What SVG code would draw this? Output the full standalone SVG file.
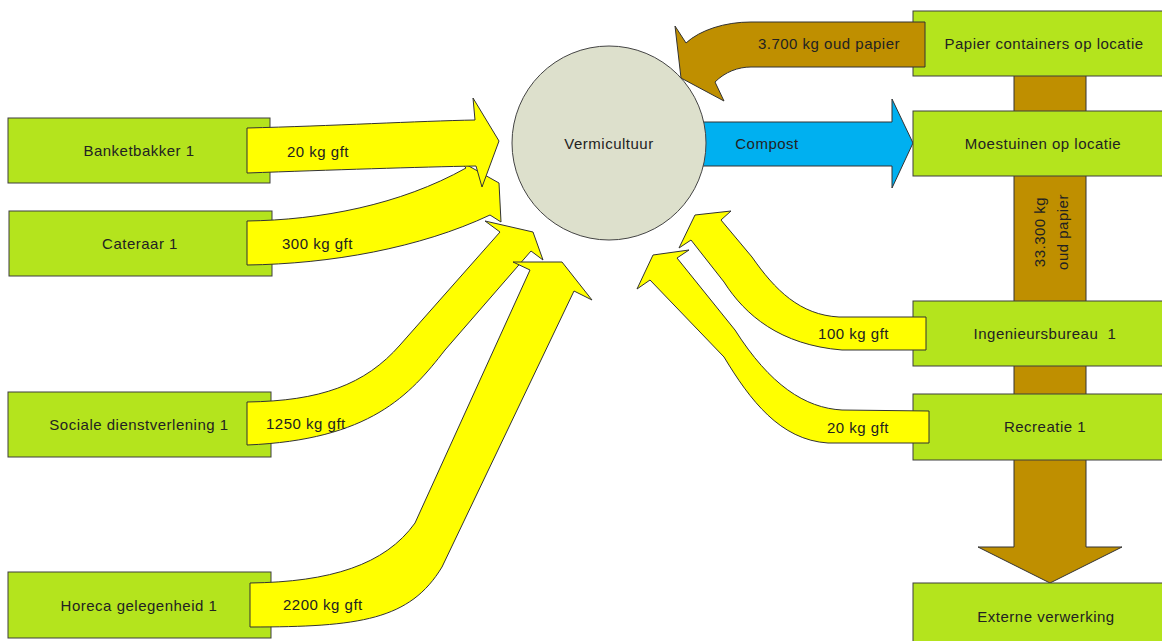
<svg xmlns="http://www.w3.org/2000/svg" width="1162" height="641" viewBox="0 0 1162 641">
<style>
.box{fill:#b4e41d;stroke:#3f3f3f;stroke-width:1}
.y{fill:#ffff00;stroke:#333;stroke-width:1;stroke-linejoin:miter}
.br{fill:#bf8f00;stroke:#333;stroke-width:1}
.bl{fill:#00b0f0;stroke:#333;stroke-width:1}
text{font-family:"Liberation Sans",Arial,sans-serif;font-size:15px;fill:#222;letter-spacing:0.5px;white-space:pre}
.c{text-anchor:middle}
.e{text-anchor:end}
</style>
<rect width="1162" height="641" fill="#fff"/>
<g id="connectors">
<path id="paper-flow" class="br" d="M1014,70 L1086,70 L1086,547 L1122,547 L1050,583 L978,547 L1014,547 Z"/>
<path id="compost" class="bl" d="M690,122 L892,122 L892,99 L913,143 L892,188 L892,166 L690,166 Z"/>
</g>
<g id="vermicultuur">
<circle cx="609" cy="143" r="97" fill="#dde0cc" stroke="#444" stroke-width="1"/>
<text class="c" x="609" y="149">Vermicultuur</text>
</g>
<g id="labels-flow">
<text class="c" x="767" y="149">Compost</text>
<text class="c" transform="translate(1045,232) rotate(-90)">33.300 kg</text>
<text class="c" transform="translate(1068,232) rotate(-90)">oud papier</text>
</g>
<g id="banketbakker"><rect class="box" x="8" y="118" width="262" height="65"/><text class="c" x="139" y="156">Banketbakker 1</text></g>
<g id="cateraar"><rect class="box" x="9" y="211" width="263" height="65"/><text class="c" x="140" y="249">Cateraar 1</text></g>
<g id="sociale"><rect class="box" x="8" y="392" width="263" height="65"/><text class="c" x="139" y="430">Sociale dienstverlening 1</text></g>
<g id="horeca"><rect class="box" x="8" y="572" width="263" height="66"/><text class="c" x="139" y="611">Horeca gelegenheid 1</text></g>
<g id="papier"><rect class="box" x="913" y="11" width="260" height="65"/><text class="c" x="1044" y="49">Papier containers op locatie</text></g>
<g id="moestuinen"><rect class="box" x="913" y="111" width="260" height="65"/><text class="c" x="1043" y="149">Moestuinen op locatie</text></g>
<g id="ingenieursbureau"><rect class="box" x="913" y="301" width="260" height="65"/><text class="c" x="1045" y="339">Ingenieursbureau  1</text></g>
<g id="recreatie"><rect class="box" x="913" y="394" width="260" height="66"/><text class="c" x="1045" y="432">Recreatie 1</text></g>
<g id="extern"><rect class="box" x="913" y="583" width="260" height="70"/><text class="c" x="1046" y="622">Externe verwerking</text></g>
<g id="arrows">
<path class="br" d="M925,22 L751,22 C725,22 700,30 686,43 L675,26 L681,78 L724,101 L715,82 C725,72 738,67 751,67 L925,67 Z"/>
<text class="e" x="900" y="49">3.700 kg oud papier</text>
<path class="y" d="M247,221 C320,220 400,205 466,168 L458,160 L499,183 L501,222 L490,215 C420,248 330,264 247,265 Z"/>
<path class="y" d="M247,128 C330,126 420,121 475,120 L473,98 L499,141 L482,187 L476,166 C420,167 330,170 247,173 Z"/>
<path class="y" d="M247,402 C320,401 365,385 400,345 L500,232 L485,221 L533,232 L543,260 L531,251 L445,350 C410,395 370,440 247,445 Z"/>
<path class="y" d="M250,583 C330,582 385,565 415,523 L530,270 L513,262 L562,262 L592,300 L574,291 L442,567 C410,620 360,627 250,627 Z"/>
<path class="y" d="M926,317 L839,317 C800,315 775,290 752,257 L721,220 L731,211 L695,215 L679,248 L691,240 L724,282 C745,315 780,345 842,350 L926,350 Z"/>
<path class="y" d="M929,411 L842,410 C805,408 770,385 735,330 L677,258 L689,250 L653,255 L637,289 L650,280 L724,357 C750,400 780,440 828,443 L929,443 Z"/>
<text x="287" y="157">20 kg gft</text>
<text x="282" y="249">300 kg gft</text>
<text x="266" y="429">1250 kg gft</text>
<text x="283" y="610">2200 kg gft</text>
<text class="e" x="889" y="339">100 kg gft</text>
<text class="e" x="889" y="433">20 kg gft</text>
</g>
</svg>
